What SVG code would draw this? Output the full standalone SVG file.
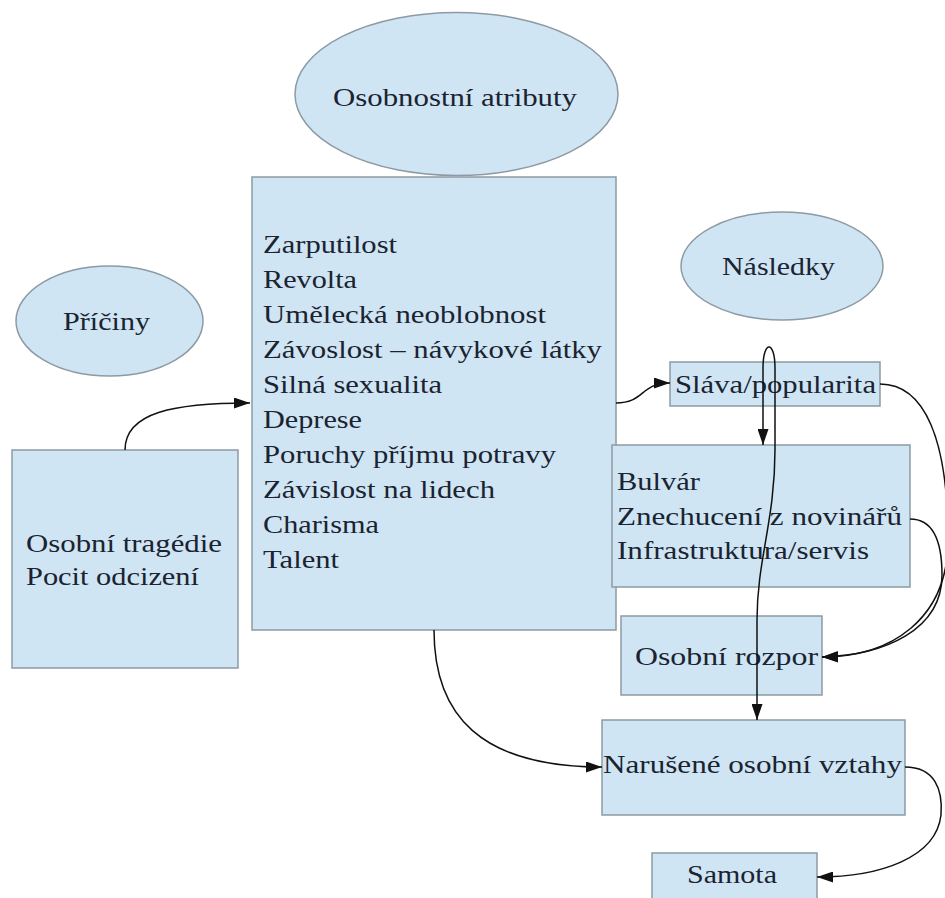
<svg xmlns="http://www.w3.org/2000/svg" width="945" height="898" viewBox="0 0 945 898">
<style>
.box{fill:#cfe5f4;stroke:#8d9aa4;stroke-width:1.5}
.t{font-family:"Liberation Serif","Times New Roman",serif;font-size:26px;fill:#1b2330}
.c{fill:none;stroke:#111;stroke-width:1.5}
</style>
<defs>
<marker id="arr" viewBox="0 0 16 11" refX="16" refY="5.5" markerWidth="16" markerHeight="11" markerUnits="userSpaceOnUse" orient="auto">
<path d="M0,0 L16,5.5 L0,11 z" fill="#111"/>
</marker>
</defs>
<rect width="945" height="898" fill="#fff"/>

<g id="osobnostni-atributy">
<ellipse class="box" cx="456.5" cy="94" rx="161.5" ry="81.5"/>
<text class="t" x="333" y="106" textLength="244" lengthAdjust="spacingAndGlyphs">Osobnostní atributy</text>
</g>

<g id="priciny">
<ellipse class="box" cx="109.5" cy="321" rx="93.5" ry="55"/>
<text class="t" x="63" y="330" textLength="87" lengthAdjust="spacingAndGlyphs">Příčiny</text>
</g>

<g id="nasledky">
<ellipse class="box" cx="782" cy="266" rx="101" ry="54"/>
<text class="t" x="722" y="275" textLength="113" lengthAdjust="spacingAndGlyphs">Následky</text>
</g>

<g id="atributy-seznam">
<rect class="box" x="252" y="177" width="364" height="453"/>
<text class="t" x="263" y="253" textLength="134" lengthAdjust="spacingAndGlyphs">Zarputilost</text>
<text class="t" x="263" y="288" textLength="94" lengthAdjust="spacingAndGlyphs">Revolta</text>
<text class="t" x="263" y="323" textLength="283" lengthAdjust="spacingAndGlyphs">Umělecká neoblobnost</text>
<text class="t" x="263" y="358" textLength="339" lengthAdjust="spacingAndGlyphs">Závoslost – návykové látky</text>
<text class="t" x="263" y="393" textLength="179" lengthAdjust="spacingAndGlyphs">Silná sexualita</text>
<text class="t" x="263" y="428" textLength="99" lengthAdjust="spacingAndGlyphs">Deprese</text>
<text class="t" x="263" y="463" textLength="293" lengthAdjust="spacingAndGlyphs">Poruchy příjmu potravy</text>
<text class="t" x="263" y="498" textLength="232" lengthAdjust="spacingAndGlyphs">Závislost na lidech</text>
<text class="t" x="263" y="533" textLength="116" lengthAdjust="spacingAndGlyphs">Charisma</text>
<text class="t" x="263" y="568" textLength="76" lengthAdjust="spacingAndGlyphs">Talent</text>
</g>

<g id="osobni-tragedie">
<rect class="box" x="12" y="450" width="226" height="218"/>
<text class="t" x="26" y="552" textLength="196" lengthAdjust="spacingAndGlyphs">Osobní tragédie</text>
<text class="t" x="26" y="585" textLength="173" lengthAdjust="spacingAndGlyphs">Pocit odcizení</text>
</g>

<g id="slava">
<rect class="box" x="670" y="362" width="210" height="44"/>
<text class="t" x="675" y="393" textLength="201" lengthAdjust="spacingAndGlyphs">Sláva/popularita</text>
</g>

<g id="bulvar">
<rect class="box" x="612" y="445" width="298" height="142"/>
<text class="t" x="617" y="490" textLength="83" lengthAdjust="spacingAndGlyphs">Bulvár</text>
<text class="t" x="617" y="525" textLength="285" lengthAdjust="spacingAndGlyphs">Znechucení z novinářů</text>
<text class="t" x="617" y="559" textLength="252" lengthAdjust="spacingAndGlyphs">Infrastruktura/servis</text>
</g>

<g id="osobni-rozpor">
<rect class="box" x="621" y="616" width="201" height="79"/>
<text class="t" x="635" y="665" textLength="183" lengthAdjust="spacingAndGlyphs">Osobní rozpor</text>
</g>

<g id="narusene-vztahy">
<rect class="box" x="602" y="720" width="303" height="95"/>
<text class="t" x="603" y="773" textLength="299" lengthAdjust="spacingAndGlyphs">Narušené osobní vztahy</text>
</g>

<g id="samota">
<rect class="box" x="652" y="853" width="165" height="60"/>
<text class="t" x="687" y="883" textLength="90" lengthAdjust="spacingAndGlyphs">Samota</text>
</g>

<g id="connectors">
<path class="c" d="M125,450 C125,412 175,403 250,403" marker-end="url(#arr)"/>
<path class="c" d="M616,403 C645,403 640,383 670,383" marker-end="url(#arr)"/>
<path class="c" d="M775,406 L775,368 C775,340 763,340 763,368 L763,445" marker-end="url(#arr)"/>
<path class="c" d="M775,406 L775,450 C775,520 757,560 757,620 L757,720" marker-end="url(#arr)"/>
<path class="c" d="M880,384 C925,384 948,440 948,540 C948,620 890,657 822,657" marker-end="url(#arr)"/>
<path class="c" d="M910,519 C935,519 942,545 942,575 C942,630 885,655 822,657" marker-end="url(#arr)"/>
<path class="c" d="M434,630 C434,715 480,767 602,767" marker-end="url(#arr)"/>
<path class="c" d="M905,767 C935,767 943,790 941,815 C936,858 880,877 817,877" marker-end="url(#arr)"/>
</g>
</svg>
